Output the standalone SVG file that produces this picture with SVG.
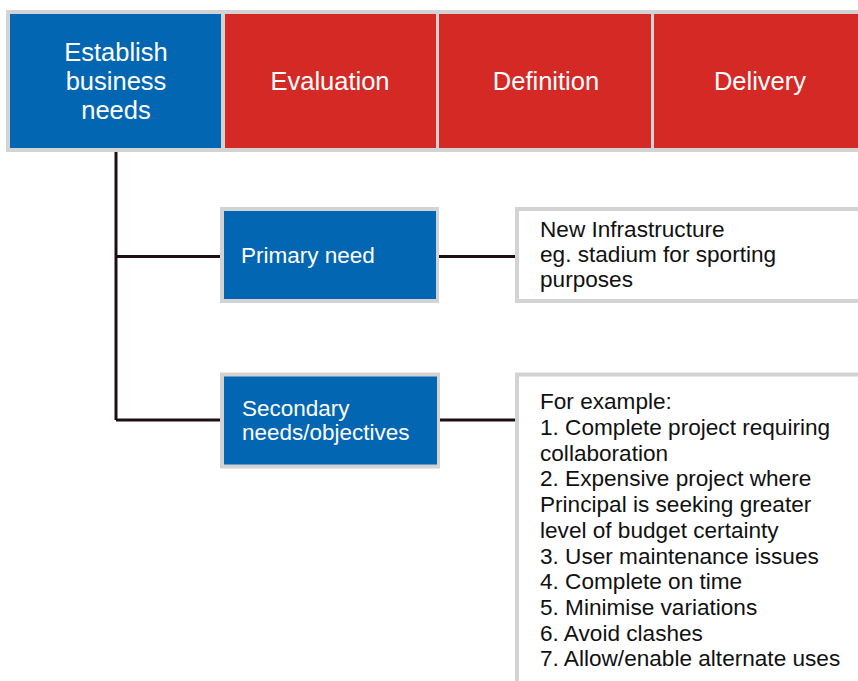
<svg xmlns="http://www.w3.org/2000/svg" width="858" height="681" viewBox="0 0 858 681">
<style>
.hdr{fill:#ffffff;font-family:"Liberation Sans",Arial,sans-serif;font-size:25.5px;text-anchor:middle}
.lbl{fill:#ffffff;font-family:"Liberation Sans",Arial,sans-serif;font-size:22.5px}
.txt{fill:#111111;font-family:"Liberation Sans",Arial,sans-serif;font-size:22.6px}
.frame{fill:#d3d3d3}
.blue{fill:#0366b3}
.red{fill:#d52926}
.white{fill:#ffffff}
.conn{stroke:#1e0e14;stroke-width:3;fill:none}
</style>
<rect width="858" height="681" fill="#ffffff"/>
<g id="connectors">
<path class="conn" d="M116 151 V420"/>
<path class="conn" d="M116 256.5 H221"/>
<path class="conn" d="M116 420 H221"/>
<path class="conn" d="M439 256.5 H516"/>
<path class="conn" d="M439 420 H516"/>
</g>
<g id="header-frame">
<rect class="frame" x="6" y="10" width="860" height="142"/>
</g>
<g id="establish">
<rect class="blue" x="10" y="14" width="211" height="134"/>
<text class="hdr" x="116" y="61">Establish</text>
<text class="hdr" x="116" y="90">business</text>
<text class="hdr" x="116" y="119">needs</text>
</g>
<g id="evaluation">
<rect class="red" x="225" y="14" width="211" height="134"/>
<text class="hdr" x="330" y="90">Evaluation</text>
</g>
<g id="definition">
<rect class="red" x="439" y="14" width="212" height="134"/>
<text class="hdr" x="546" y="90">Definition</text>
</g>
<g id="delivery">
<rect class="red" x="654" y="14" width="212" height="134"/>
<text class="hdr" x="760" y="90">Delivery</text>
</g>
<g id="primary-need">
<rect class="frame" x="220" y="207" width="219" height="96"/>
<rect class="blue" x="224" y="211" width="212" height="88"/>
<text class="lbl" x="241" y="263">Primary need</text>
</g>
<g id="secondary-needs">
<rect class="frame" x="220" y="372.5" width="220" height="96"/>
<rect class="blue" x="224" y="376.5" width="213" height="88"/>
<text class="lbl" x="242" y="416">Secondary</text>
<text class="lbl" x="242" y="440">needs/objectives</text>
</g>
<g id="primary-detail">
<rect class="frame" x="515" y="207" width="360" height="96"/>
<rect class="white" x="519" y="211" width="360" height="88"/>
<text class="txt" x="540" y="237">New Infrastructure</text>
<text class="txt" x="540" y="262">eg. stadium for sporting</text>
<text class="txt" x="540" y="287">purposes</text>
</g>
<g id="secondary-detail">
<rect class="frame" x="515" y="372.5" width="360" height="320"/>
<rect class="white" x="519" y="376.5" width="360" height="320"/>
<text class="txt" x="540" y="409.3">For example:</text>
<text class="txt" x="540" y="435">1. Complete project requiring</text>
<text class="txt" x="540" y="460.7">collaboration</text>
<text class="txt" x="540" y="486.4">2. Expensive project where</text>
<text class="txt" x="540" y="512">Principal is seeking greater</text>
<text class="txt" x="540" y="537.8">level of budget certainty</text>
<text class="txt" x="540" y="563.5">3. User maintenance issues</text>
<text class="txt" x="540" y="589.2">4. Complete on time</text>
<text class="txt" x="540" y="614.9">5. Minimise variations</text>
<text class="txt" x="540" y="640.6">6. Avoid clashes</text>
<text class="txt" x="540" y="666.3">7. Allow/enable alternate uses</text>
</g>
</svg>
